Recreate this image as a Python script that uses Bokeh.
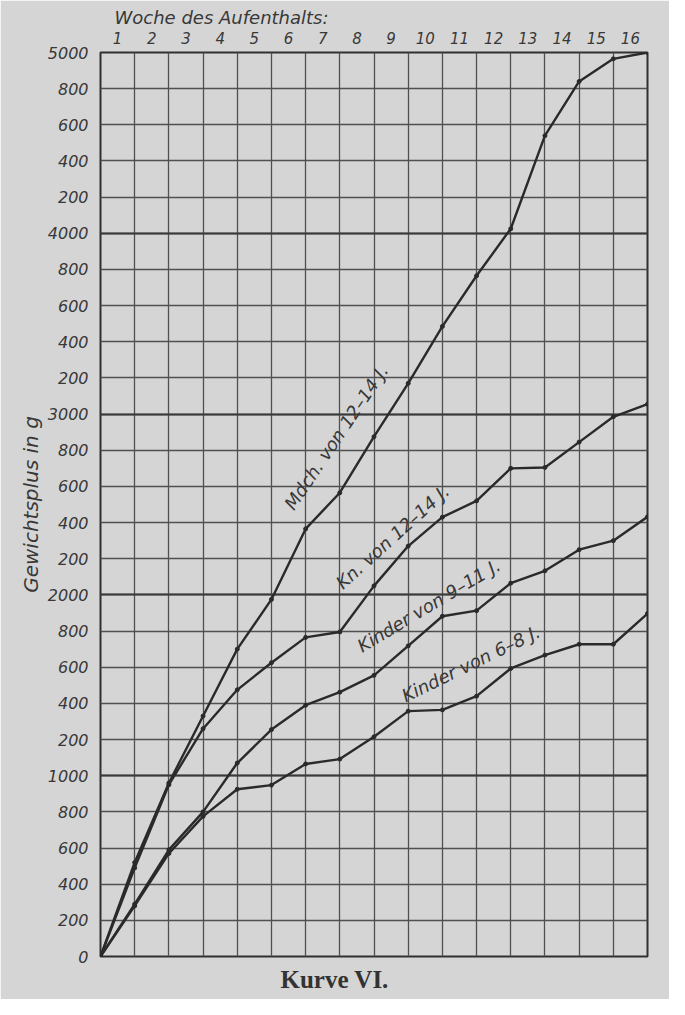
from bokeh.plotting import figure
from bokeh.models import Range1d, FixedTicker, Grid, Title, Label
from bokeh.embed import file_html
from bokeh.resources import INLINE

# ---------------- data ----------------
weeks = [0, 1, 2, 3, 4, 5, 6, 7, 8, 9, 10, 11, 12, 13, 14, 15, 16]
maedchen_12_14 = [0, 520, 960, 1330, 1700, 1975, 2365, 2565, 2875, 3170, 3485,
                  3765, 4025, 4540, 4840, 4965, 5000]
knaben_12_14 = [0, 490, 950, 1260, 1475, 1625, 1765, 1795, 2050, 2270, 2430,
                2520, 2700, 2705, 2845, 2985, 3055]
kinder_9_11 = [0, 290, 590, 800, 1070, 1255, 1390, 1462, 1555, 1718, 1882,
               1913, 2065, 2133, 2250, 2300, 2432]
kinder_6_8 = [0, 280, 570, 775, 925, 948, 1065, 1092, 1215, 1357, 1364,
              1440, 1593, 1667, 1727, 1727, 1897]

series_names = ["Mdch. von 12–14 J.", "Kn. von 12–14 J.",
                "Kinder von 9–11 J.", "Kinder von 6–8 J."]

week_labels = ["1", "2", "3", "4", "5", "6", "7", "8", "9", "10", "11", "12",
               "13", "14", "15", "16"]
y_ticks = [0, 200, 400, 600, 800, 1000, 1200, 1400, 1600, 1800, 2000, 2200,
           2400, 2600, 2800, 3000, 3200, 3400, 3600, 3800, 4000, 4200, 4400,
           4600, 4800, 5000]
y_tick_labels = ["0", "200", "400", "600", "800", "1000", "200", "400", "600",
                 "800", "2000", "200", "400", "600", "800", "3000", "200",
                 "400", "600", "800", "4000", "200", "400", "600", "800",
                 "5000"]
thousand_lines = [1000, 2000, 3000, 4000]

# ---------------- styling ----------------
BG = "#d5d5d5"
INK = "#2a2a2a"
GRID = "#505050"
TXT = "#383838"
FONT = "DejaVu Sans"

p = figure(width=669, height=999,
           x_range=Range1d(0, 16), y_range=Range1d(0, 5000),
           x_axis_location="above",
           output_backend="svg", toolbar_location=None,
           min_border_left=100, min_border_right=22,
           min_border_top=52, min_border_bottom=42,
           background_fill_color=BG, border_fill_color=BG,
           outline_line_color="#303030", outline_line_width=2)

# top axis: week numbers centred in the week intervals
xa = p.xaxis[0]
xa.ticker = FixedTicker(ticks=[i + 0.5 for i in range(len(week_labels))])
xa.major_label_overrides = {i + 0.5: lab for i, lab in enumerate(week_labels)}
xa.axis_line_color = None
xa.major_tick_line_color = None
xa.minor_tick_line_color = None
xa.major_label_standoff = 3
xa.major_label_text_font = FONT
xa.major_label_text_font_style = "italic"
xa.major_label_text_font_size = "15px"
xa.major_label_text_color = TXT

ya = p.yaxis[0]
ya.ticker = FixedTicker(ticks=y_ticks)
ya.major_label_overrides = {t: lab for t, lab in zip(y_ticks, y_tick_labels)}
ya.axis_line_color = None
ya.major_tick_line_color = None
ya.minor_tick_line_color = None
ya.major_label_standoff = 6
ya.major_label_text_font = FONT
ya.major_label_text_font_style = "italic"
ya.major_label_text_font_size = "16px"
ya.major_label_text_color = TXT
ya.axis_label = "Gewichtsplus in g"
ya.axis_label_text_font = FONT
ya.axis_label_text_font_style = "italic"
ya.axis_label_text_font_size = "20px"
ya.axis_label_text_color = TXT
ya.axis_label_standoff = 2

# grid
p.xgrid[0].ticker = FixedTicker(ticks=weeks[1:-1])
p.ygrid[0].ticker = FixedTicker(ticks=y_ticks)
for g in (p.xgrid[0], p.ygrid[0]):
    g.grid_line_color = GRID
    g.grid_line_width = 1.3
    g.grid_line_alpha = 1.0
p.add_layout(Grid(dimension=1, ticker=FixedTicker(ticks=thousand_lines),
                  grid_line_color="#3a3a3a", grid_line_width=1.8))

# title (top) and caption (bottom)
p.title.text = "Woche des Aufenthalts:"
p.title.align = "left"
p.title.offset = 14
p.title.text_font = FONT
p.title.text_font_style = "italic"
p.title.text_font_size = "18px"
p.title.text_color = TXT
p.title.standoff = 2

p.add_layout(Title(text="Kurve VI.", align="left", offset=180,
                   text_font="Liberation Serif", text_font_style="bold",
                   text_font_size="25px", text_color="#333333",
                   standoff=14), "below")

# curves
for vals in (maedchen_12_14, knaben_12_14, kinder_9_11, kinder_6_8):
    p.line(weeks, vals, line_color=INK, line_width=2.4, line_join="round")
    p.scatter(weeks, vals, size=4, fill_color=INK, line_color=INK)

# curve labels written along the lines
label_pos = [(5.76, 2450, 56), (7.17, 2010, 42), (7.72, 1660, 31),
             (8.98, 1385, 26)]
for name, (lx, ly, ang) in zip(series_names, label_pos):
    p.add_layout(Label(x=lx, y=ly, text=name, angle=ang, angle_units="deg",
                       text_font=FONT, text_font_style="italic",
                       text_font_size="18px", text_color=TXT))

open("out.html", "w").write(file_html(p, INLINE))
